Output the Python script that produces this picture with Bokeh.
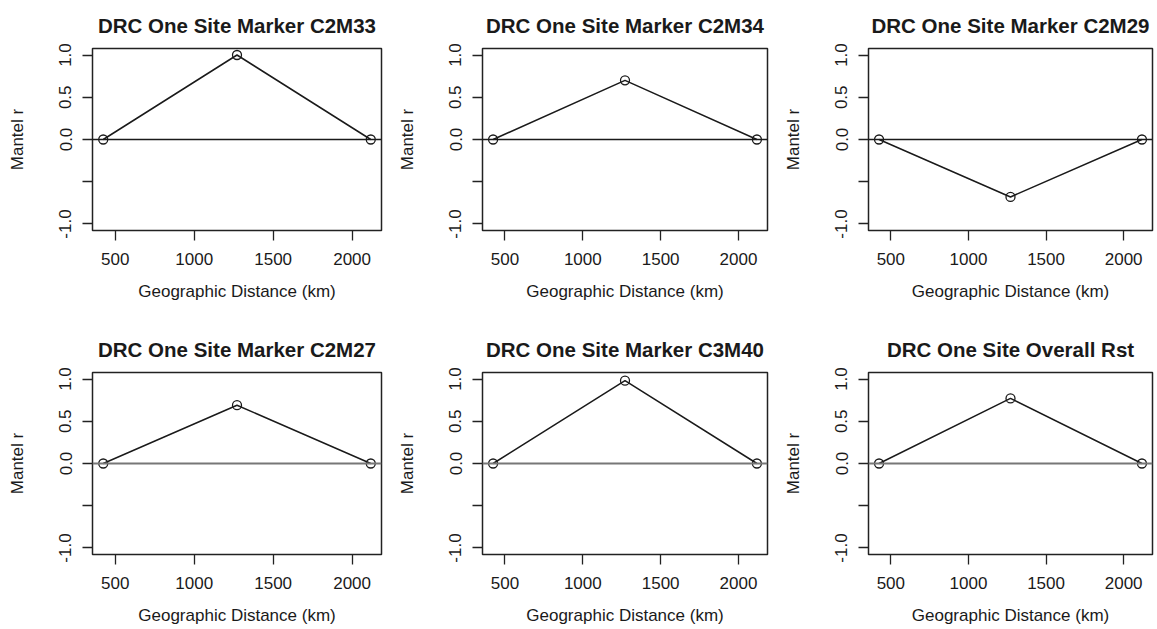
from bokeh.plotting import figure
from bokeh.layouts import column, row
from bokeh.models import Range1d, FixedTicker, PrintfTickFormatter, Span
from bokeh.embed import file_html
from bokeh.resources import INLINE

titles = ["DRC One Site Marker C2M33", "DRC One Site Marker C2M34", "DRC One Site Marker C2M29",
          "DRC One Site Marker C2M27", "DRC One Site Marker C3M40", "DRC One Site Overall Rst"]
distance_km = [424, 1271, 2118]
mantel_c2m33 = [0.0, 1.00, 0.0]
mantel_c2m34 = [0.0, 0.70, 0.0]
mantel_c2m29 = [0.0, -0.68, 0.0]
mantel_c2m27 = [0.0, 0.69, 0.0]
mantel_c3m40 = [0.0, 0.98, 0.0]
mantel_overall = [0.0, 0.77, 0.0]
series = [mantel_c2m33, mantel_c2m34, mantel_c2m29, mantel_c2m27, mantel_c3m40, mantel_overall]
x_ticks = [500, 1000, 1500, 2000]
y_ticks = [-1.0, -0.5, 0.0, 0.5, 1.0]

X_MIN, X_MAX = 356, 2186
Y_MIN, Y_MAX = -1.077, 1.077

FONT = "Liberation Sans"
TXT = "#1a1a1a"


def make(i):
    r, c = divmod(i, 3)
    left = [92, 84, 83][c]
    right = [13, 13, 5][c]
    width = left + 289 + right
    top = 48
    bottom = 94 if r == 0 else 75
    height = top + 182 + bottom
    p = figure(width=width, height=height, output_backend="svg", toolbar_location=None,
               x_range=Range1d(X_MIN, X_MAX), y_range=Range1d(Y_MIN, Y_MAX),
               min_border_left=left, min_border_right=right, min_border_top=top,
               min_border_bottom=bottom, title=titles[i])
    p.title.text_font = FONT
    p.title.text_font_style = "bold"
    p.title.text_font_size = "20.5px"
    p.title.align = "center"
    p.title.text_color = TXT
    p.title.standoff = 23
    p.grid.visible = False
    p.outline_line_color = "#222222"
    p.outline_line_width = 1.5
    p.background_fill_color = "white"
    p.border_fill_color = "white"

    p.xaxis.ticker = FixedTicker(ticks=x_ticks)
    p.yaxis.ticker = FixedTicker(ticks=y_ticks)
    p.yaxis.formatter = PrintfTickFormatter(format="%.1f")
    p.yaxis.major_label_overrides = {-0.5: ""}
    p.yaxis.major_label_orientation = "vertical"
    p.xaxis.axis_label = "Geographic Distance (km)"
    p.yaxis.axis_label = "Mantel r"
    for ax in (p.xaxis, p.yaxis):
        ax.axis_line_color = None
        ax.major_tick_out = 10
        ax.major_tick_in = 0
        ax.major_tick_line_color = "#222222"
        ax.major_tick_line_width = 1.3
        ax.minor_tick_line_color = None
        ax.major_label_text_font = FONT
        ax.major_label_text_font_size = "17px"
        ax.major_label_text_color = TXT
        ax.axis_label_text_font = FONT
        ax.axis_label_text_font_size = "17px"
        ax.axis_label_text_font_style = "normal"
        ax.axis_label_text_color = TXT
    p.xaxis.major_label_standoff = 12
    p.xaxis.axis_label_standoff = 14
    p.yaxis.major_label_standoff = 11
    p.yaxis.axis_label_standoff = 30

    zero_color = "#1a1a1a" if r == 0 else "#777777"
    zero_w = 1.5 if r == 0 else 2
    p.add_layout(Span(location=0, dimension="width", line_color=zero_color, line_width=zero_w))
    p.line(distance_km, series[i], line_color="#1a1a1a", line_width=1.5)
    p.scatter(distance_km, series[i], marker="circle", size=9, fill_color=None,
              line_color="#1a1a1a", line_width=1.3)
    return p


figs = [make(i) for i in range(6)]
layout = column(row(*figs[:3], spacing=0), row(*figs[3:], spacing=0), spacing=0)
open("out.html", "w").write(file_html(layout, INLINE))
